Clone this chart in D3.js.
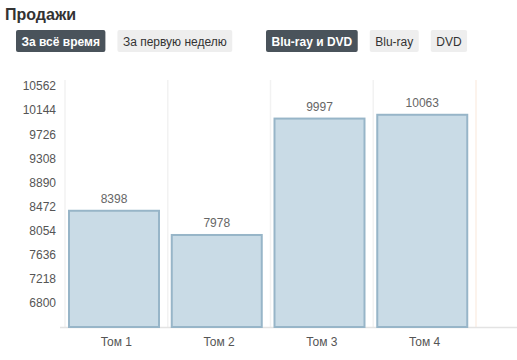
<!DOCTYPE html>
<html><head><meta charset="utf-8">
<script src="https://cdn.jsdelivr.net/npm/d3@7"></script>
<style>
body{margin:0;background:#fff;}
svg text{font-family:"Liberation Sans",Arial,sans-serif;}
</style></head>
<body>
<svg id="c" width="517" height="360"></svg>
<script>
const categories = ["Том 1","Том 2","Том 3","Том 4"];
const values = [8398, 7978, 9997, 10063];
const yTicks = [6800,7218,7636,8054,8472,8890,9308,9726,10144,10562];
const periodButtons = ["За всё время","За первую неделю"];
const formatButtons = ["Blu-ray и DVD","Blu-ray","DVD"];
const title = "Продажи";

const FF = "'Liberation Sans',Arial,sans-serif";
const svg = d3.select("#c");
const ml=65, mr=476, mt=80, mb=327;
const x = d3.scaleBand().domain(categories).range([ml,mr]).paddingInner(0).paddingOuter(0);
const y = d3.scaleLinear().domain([6382, 6382 + 418*(mb-mt)/24.1]).range([mb,mt]);

svg.append("text").attr("x",5).attr("y",20).text(title)
  .attr("font-size",16).attr("font-weight","bold").attr("fill","#333").attr("font-family",FF);

function buttons(list, x0, gap){
  let cx=x0;
  list.forEach((t,i)=>{
    const g=svg.append("g");
    const txt=g.append("text").attr("x",cx+5.5).attr("y",45.5).text(t)
      .attr("font-size",12).attr("fill", i===0?"#fff":"#333").attr("font-family",FF)
      .attr("font-weight", i===0?"bold":"normal");
    const w=txt.node().getComputedTextLength()+11;
    g.insert("rect","text").attr("x",cx).attr("y",30).attr("width",w).attr("height",22)
      .attr("rx",2).attr("fill", i===0?"#4a535b":"#eeeeee");
    cx+=w+gap;
  });
}
buttons(periodButtons,16,12);
buttons(formatButtons,266,12);

// vertical grid at band boundaries
const bounds = categories.map(c=>x(c)).concat([mr]);
svg.selectAll(".vg").data(bounds).join("line")
  .attr("x1",d=>d).attr("x2",d=>d).attr("y1",mt).attr("y2",mb)
  .attr("stroke",(d,i)=> i===categories.length?"#fbefe6":"#f2f2f2").attr("stroke-width",1.5);

// axis line
svg.append("line").attr("x1",60).attr("x2",517).attr("y1",mb+0.5).attr("y2",mb+0.5)
  .attr("stroke","#e3e3e3").attr("stroke-width",1.5);

// y axis
const ya = d3.axisLeft(y).tickValues(yTicks).tickFormat(d3.format("d")).tickSize(0).tickPadding(0);
const yg = svg.append("g").attr("transform",`translate(56,0)`).call(ya);
yg.attr("font-family",FF);
yg.select(".domain").remove();
yg.selectAll("text").attr("font-size",12).attr("fill","#555");

// x axis
const xa = d3.axisBottom(x).tickSize(0).tickPadding(10);
const xg = svg.append("g").attr("transform",`translate(0,${mb})`).call(xa);
xg.attr("font-family",FF);
xg.select(".domain").remove();
xg.selectAll("text").attr("font-size",12).attr("fill","#555");

// bars
svg.selectAll(".bar").data(values).join("rect")
  .attr("x",(d,i)=> x(categories[i])+4)
  .attr("width",x.bandwidth()-12.75)
  .attr("y",d=>y(d)).attr("height",d=>mb-y(d))
  .attr("fill","#c9dbe6").attr("stroke","#97b5c8").attr("stroke-width",2);

svg.selectAll(".lbl").data(values).join("text")
  .attr("x",(d,i)=> x(categories[i])+4+(x.bandwidth()-12.75)/2)
  .attr("y",d=>y(d)-8).attr("text-anchor","middle").attr("font-family",FF)
  .attr("font-size",12).attr("fill","#666").text(d=>d);
</script>
</body></html>
